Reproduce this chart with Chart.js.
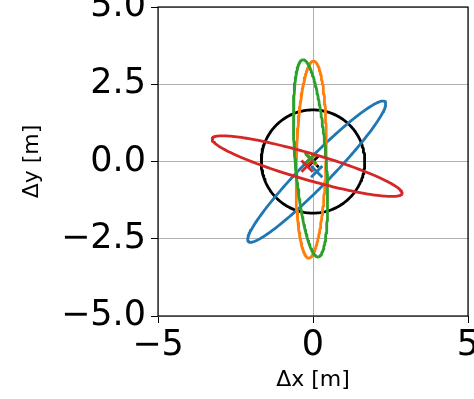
<!DOCTYPE html>
<html>
<head>
<meta charset="utf-8">
<script src="https://cdn.jsdelivr.net/npm/chart.js@4/dist/chart.umd.min.js"></script>
<style>
html, body { margin: 0; padding: 0; background: #fff; overflow: hidden; }
#wrap { position: relative; width: 474px; height: 399px; overflow: hidden; }
#ellipses { position: absolute; left: 0; top: -30px; }
</style>
</head>
<body>
<div id="wrap"><canvas id="ellipses" width="520" height="429"></canvas></div>
<script>
// one entry per ellipse: reference circle first, then the four coloured ones
const names = ['reference', 'blue', 'orange', 'green', 'red'];
const colors = ['#000000', '#1f77b4', '#ff7f0e', '#2ca02c', '#d62728'];
const centerX = [0.0, 0.12, -0.06, -0.08, -0.19];
const centerY = [0.0, -0.33, 0.06, 0.1, -0.15];
const semiMajor = [1.67, 3.16, 3.19, 3.2, 3.19];
const semiMinor = [1.67, 0.45, 0.48, 0.5, 0.43];
const angleDeg = [0, 45.8, 88.5, 94.3, -16.2];

const xTicks = [-5, 0, 5];
const yTicks = [-5, -2.5, 0, 2.5, 5];

// ellipse outline from its parameters
function outline(i) {
    const pts = [];
    const t = angleDeg[i] * Math.PI / 180;
    for (let k = 0; k <= 180; k++) {
        const s = (k / 180 + 0.25) * 2 * Math.PI; // start on the flat side so the seam is hidden
        const u = semiMajor[i] * Math.cos(s), v = semiMinor[i] * Math.sin(s);
        pts.push({
            x: centerX[i] + u * Math.cos(t) - v * Math.sin(t),
            y: centerY[i] + u * Math.sin(t) + v * Math.cos(t)
        });
    }
    return pts;
}

const minus = s => s.replace('-', '\u2212');

const datasets = [];
names.forEach((name, i) => {
    datasets.push({
        label: name,
        data: outline(i),
        showLine: true,
        borderColor: colors[i],
        borderWidth: 2.8,
        borderCapStyle: 'round',
        borderJoinStyle: 'round',
        pointRadius: 0,
        tension: 0
    });
    datasets.push({
        label: name + ' centre',
        data: [{x: centerX[i], y: centerY[i]}],
        pointStyle: 'crossRot',
        pointRadius: 8,
        pointBorderColor: colors[i],
        pointBorderWidth: 2.8,
        showLine: false
    });
});
datasets.forEach((d, i) => d.order = -i); // later ones drawn on top

const frame = {
    id: 'frame',
    afterDatasetsDraw(chart) {
        const {ctx, chartArea: a} = chart;
        ctx.save();
        ctx.strokeStyle = '#000';
        ctx.lineWidth = 1.2;
        ctx.strokeRect(a.left, a.top, a.right - a.left, a.bottom - a.top);
        ctx.restore();
    }
};

const tickFont = {family: 'DejaVu Sans', size: 35};
const titleFont = {family: 'DejaVu Sans', size: 22};

// canvas is larger than the window; the window crops the top and right like the original
new Chart(document.getElementById('ellipses').getContext('2d'), {
    type: 'scatter',
    data: {datasets: datasets},
    options: {
        responsive: false,
        animation: false,
        layout: {padding: {top: 37, right: 52, left: 0, bottom: 0}},
        plugins: {legend: {display: false}, tooltip: {enabled: false}},
        scales: {
            x: {
                type: 'linear',
                min: -5,
                max: 5,
                afterBuildTicks: s => { s.ticks = xTicks.map(v => ({value: v})); },
                afterFit: s => { s.height = 83; },
                grid: {color: '#b0b0b0', lineWidth: 1, tickColor: '#000', tickLength: 7},
                border: {display: false},
                ticks: {
                    font: tickFont, color: '#000', padding: 2,
                    autoSkip: false, maxRotation: 0,
                    callback: v => minus(String(v))
                },
                title: {display: true, text: 'Δx [m]', font: titleFont, color: '#000', padding: {top: 0, bottom: 6}}
            },
            y: {
                type: 'linear',
                min: -5,
                max: 5,
                afterBuildTicks: s => { s.ticks = yTicks.map(v => ({value: v})); },
                afterFit: s => { s.width = 158; },
                grid: {color: '#b0b0b0', lineWidth: 1, tickColor: '#000', tickLength: 7},
                border: {display: false},
                ticks: {
                    font: tickFont, color: '#000', padding: 5,
                    autoSkip: false,
                    callback: v => minus(v.toFixed(1))
                },
                title: {display: true, text: 'Δy [m]', font: titleFont, color: '#000', padding: {top: 19, bottom: 0}}
            }
        }
    },
    plugins: [frame]
});
</script>
</body>
</html>
